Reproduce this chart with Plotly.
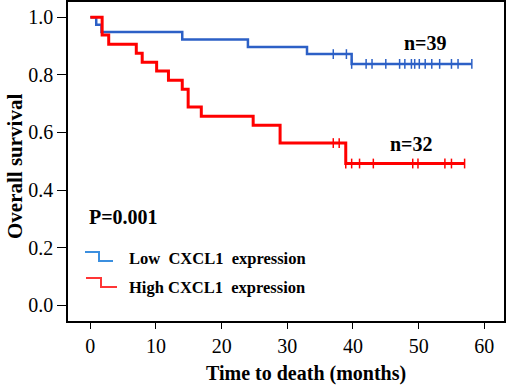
import plotly.graph_objects as go
import numpy as np

# ---- data ----
low_times = [0, 0.9, 1.7, 14.0, 24.0, 33.0, 39.8, 58.1]
low_surv = [1.0, 0.974, 0.949, 0.923, 0.897, 0.872, 0.838, 0.838]
low_censor = [37.0, 39.0, 39.8, 42.0, 42.9, 45.0, 47.1, 47.9, 48.9, 49.4, 50.1, 51.0, 52.0, 53.2, 55.0, 56.0, 58.1]

high_times = [0, 1.8, 2.8, 7.0, 7.9, 10.1, 11.9, 14.0, 14.9, 16.9, 24.8, 28.9, 38.9, 57.0]
high_surv = [1.0, 0.938, 0.906, 0.875, 0.844, 0.813, 0.781, 0.75, 0.688, 0.656, 0.625, 0.563, 0.492, 0.492]
high_censor = [37.0, 37.9, 38.9, 39.8, 41.0, 43.1, 49.1, 49.9, 54.0, 55.0, 57.0]

x_ticks = [0, 10, 20, 30, 40, 50, 60]
y_ticks = [0.0, 0.2, 0.4, 0.6, 0.8, 1.0]

labels = ["Low  CXCL1  expression", "High CXCL1  expression"]
counts = ["n=39", "n=32"]
p_text = "P=0.001"

BLUE = "#2c60c6"
RED = "#ff0000"
FONT = "Liberation Serif"


def step_value(times, surv, t):
    idx = np.searchsorted(times, t, side="right") - 1
    return surv[max(idx, 0)]


fig = go.Figure()
for times, surv, cens, col, w in [
    (low_times, low_surv, low_censor, BLUE, 2.5),
    (high_times, high_surv, high_censor, RED, 3),
]:
    fig.add_trace(go.Scatter(x=times, y=surv, mode="lines", line=dict(color=col, width=w, shape="hv"),
                             showlegend=False, hoverinfo="skip"))
    fig.add_trace(go.Scatter(x=cens, y=[step_value(times, surv, t) for t in cens], mode="markers",
                             marker=dict(symbol="line-ns", size=7, line=dict(color=col, width=1.5)),
                             showlegend=False, hoverinfo="skip"))

# pixel -> paper helpers for decorations
L, R, T, B = 68, 504, 2, 321
def px(x):
    return (x - L) / (R - L)
def py(y):
    return (B - y) / (B - T)

# legend glyphs (step shapes)
for (x0, xm, x1, y0, y1, col) in [(85, 99, 113, 252, 261, "#3b8fdf"), (86, 101, 117, 278, 287, "#ff3535")]:
    fig.add_shape(type="path", xref="paper", yref="paper",
                  path=f"M {px(x0)},{py(y0)} L {px(xm)},{py(y0)} L {px(xm)},{py(y1)} L {px(x1)},{py(y1)}",
                  line=dict(color=col, width=2))

ann_font = dict(family=FONT, size=16.5, color="black")
fig.add_annotation(x=px(127), y=py(258), xref="paper", yref="paper", text="<b>" + labels[0] + "</b>",
                   showarrow=False, xanchor="left", yanchor="middle", font=ann_font)
fig.add_annotation(x=px(127), y=py(287), xref="paper", yref="paper", text="<b>" + labels[1] + "</b>",
                   showarrow=False, xanchor="left", yanchor="middle", font=ann_font)
fig.add_annotation(x=px(87), y=py(217), xref="paper", yref="paper", text="<b>" + p_text + "</b>",
                   showarrow=False, xanchor="left", yanchor="middle", font=dict(family=FONT, size=20, color="black"))
fig.add_annotation(x=px(425), y=py(43), xref="paper", yref="paper", text="<b>" + counts[0] + "</b>",
                   showarrow=False, xanchor="center", yanchor="middle", font=dict(family=FONT, size=20, color="black"))
fig.add_annotation(x=px(411), y=py(144), xref="paper", yref="paper", text="<b>" + counts[1] + "</b>",
                   showarrow=False, xanchor="center", yanchor="middle", font=dict(family=FONT, size=20, color="black"))

# axis titles
fig.add_annotation(x=px(306), y=py(373), xref="paper", yref="paper", text="<b>Time to death (months)</b>",
                   showarrow=False, xanchor="center", yanchor="middle", font=dict(family=FONT, size=20, color="black"))
fig.add_annotation(x=px(15), y=py(167), xref="paper", yref="paper", text="<b>Overall survival</b>", textangle=-90,
                   showarrow=False, xanchor="center", yanchor="middle", font=dict(family=FONT, size=21, color="black"))

fig.update_xaxes(range=[-3.4, 63], tickvals=x_ticks, ticks="outside", ticklen=6, tickwidth=1.2, tickcolor="black",
                 showline=True, linecolor="black", linewidth=1.5, mirror=True, showgrid=False, zeroline=False,
                 automargin=False, tickfont=dict(family=FONT, size=20, color="black"))
fig.update_yaxes(range=[-0.055, 1.053], tickvals=y_ticks, tickformat=".1f", ticks="outside", ticklen=9, tickwidth=1.2,
                 tickcolor="black", showline=True, linecolor="black", linewidth=1.5, mirror=True, showgrid=False,
                 zeroline=False, automargin=False, tickfont=dict(family=FONT, size=20, color="black"))

fig.update_layout(width=510, height=388, margin=dict(l=L, r=510 - R, t=T, b=388 - B, autoexpand=False),
                  plot_bgcolor="white", paper_bgcolor="white", showlegend=False)

fig.write_html("out.html", config={"displayModeBar": False},
               post_script="document.body.style.margin='0';document.body.style.overflow='hidden';")
